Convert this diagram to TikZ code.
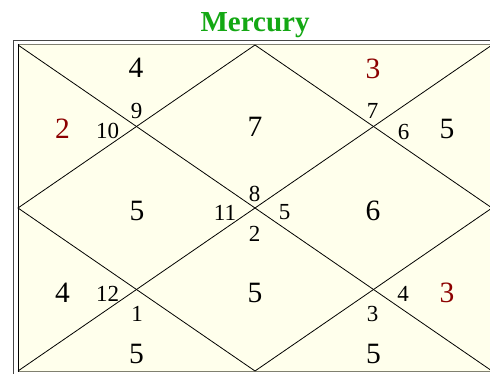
\documentclass[tikz,border=0pt]{standalone}
\usepackage{fontspec}
\setmainfont{Liberation Serif}
\definecolor{cream}{RGB}{255,255,236}
\definecolor{titlegreen}{RGB}{20,168,20}
\definecolor{hred}{RGB}{140,0,0}
\definecolor{framedark}{RGB}{70,70,70}
\definecolor{framegray}{RGB}{128,128,112}
\begin{document}
\begin{tikzpicture}[x=1pt,y=-1pt,
  big/.style={inner sep=0pt, font=\fontsize{29.5}{31}\selectfont},
  small/.style={inner sep=0pt, font=\fontsize{23}{25}\selectfont},
  lord/.style={big, text=hred},
  gridline/.style={line width=0.8pt, black},
  titlestyle/.style={inner sep=0pt, anchor=base, text=titlegreen, font=\fontsize{29}{31}\selectfont\bfseries}]
\useasboundingbox (0,0) rectangle (490,374);
\fill[white] (0,0) rectangle (490,374);
\begin{scope}
\clip (0,0) rectangle (490,374);
\draw[line width=1.3pt, framedark] (13.5,40.5) rectangle (500,385);
\fill[cream] (18,45) rectangle (492,371);
\draw[line width=1pt, framegray] (18,44.5) -- (500,44.5);
\draw[line width=1pt, framegray] (18,371.5) -- (500,371.5);
\draw[line width=1pt, black] (18,44.5) -- (18,372);
% chart geometry
\coordinate (TL) at (18,45);
\coordinate (TR) at (492,45);
\coordinate (BL) at (18,371);
\coordinate (BR) at (492,371);
\coordinate (T) at (255,45);
\coordinate (B) at (255,371);
\coordinate (L) at (18,208);
\coordinate (R) at (492,208);
\draw[gridline] (TL) -- (BR);
\draw[gridline] (TR) -- (BL);
\draw[gridline] (T) -- (L) -- (B) -- (R) -- cycle;
\end{scope}
% title
\node[titlestyle] (title) at (255,31.7) {Mercury};
% big numbers
\node[big]  (h1) at (255,127) {7};
\node[big]  (h2) at (136,68) {4};
\node[lord] (h3) at (62.5,128.5) {2};
\node[big]  (h4) at (137,211) {5};
\node[big]  (h5) at (62.5,293) {4};
\node[big]  (h6) at (136.5,354) {5};
\node[big]  (h7) at (255,293) {5};
\node[big]  (h8) at (373.5,354) {5};
\node[lord] (h9) at (447,293) {3};
\node[big]  (h10) at (373,211) {6};
\node[big]  (h11) at (447,128.5) {5};
\node[lord] (h12) at (373,68.5) {3};
% small sign numbers
\node[small] (s8)  at (254.5,193.5) {8};
\node[small] (s11) at (225,212.5) {11};
\node[small] (s5)  at (284.5,212.5) {5};
\node[small] (s2)  at (254.5,233.5) {2};
\node[small] (s9)  at (136.5,111) {9};
\node[small] (s10) at (107.5,131) {10};
\node[small] (s7)  at (372.5,110.5) {7};
\node[small] (s6)  at (403.5,131.5) {6};
\node[small] (s12) at (107.5,294) {12};
\node[small] (s1)  at (137,314) {1};
\node[small] (s4)  at (403,294) {4};
\node[small] (s3)  at (372.5,314) {3};
\end{tikzpicture}
\end{document}
